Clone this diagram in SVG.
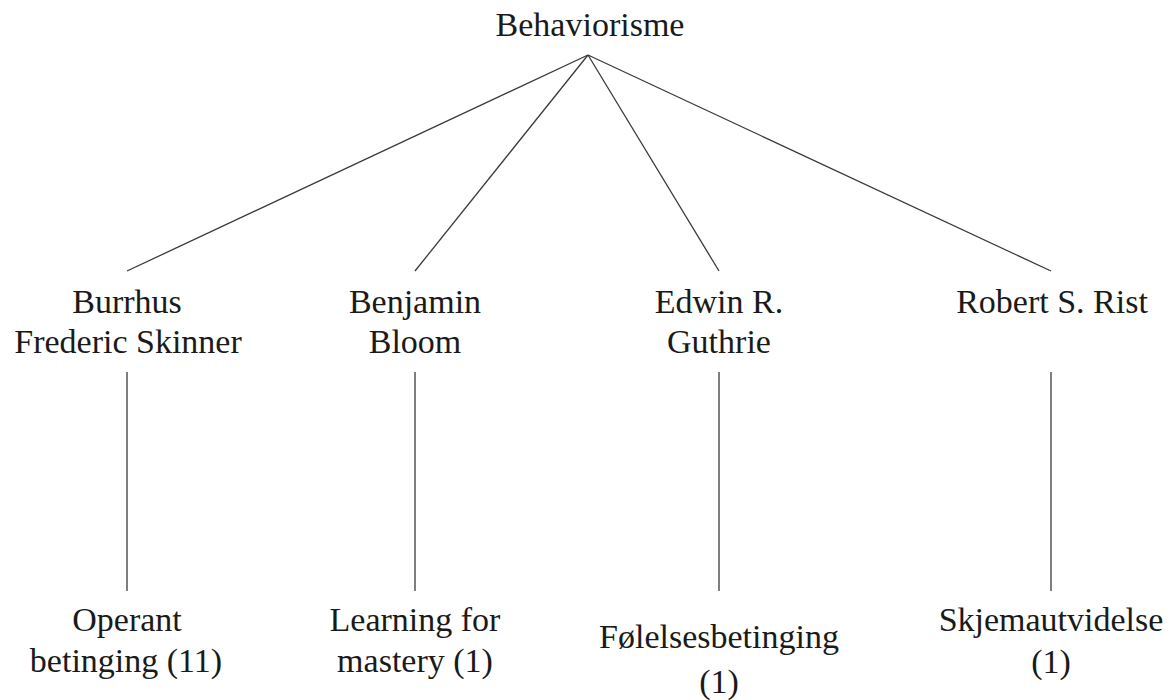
<svg xmlns="http://www.w3.org/2000/svg" width="1176" height="700" viewBox="0 0 1176 700">
  <style>
    .lbl { font-family: "Liberation Serif", "Times New Roman", serif; font-size: 34px; fill: #1a1a1a; text-anchor: middle; }
    .edge { stroke: #3a3a3a; stroke-width: 1.3; fill: none; }
  </style>
  <rect width="1176" height="700" fill="#ffffff"/>
  <g id="connectors">
    <line class="edge" x1="588" y1="55" x2="127" y2="271"/>
    <line class="edge" x1="588" y1="55" x2="415" y2="271"/>
    <line class="edge" x1="588" y1="55" x2="719" y2="271"/>
    <line class="edge" x1="588" y1="55" x2="1051" y2="271"/>
    <line class="edge" x1="127" y1="372" x2="127" y2="591"/>
    <line class="edge" x1="415" y1="372" x2="415" y2="591"/>
    <line class="edge" x1="719" y1="372" x2="719" y2="591"/>
    <line class="edge" x1="1051" y1="372" x2="1051" y2="591"/>
  </g>
  <g id="root">
    <text class="lbl" x="590" y="36">Behaviorisme</text>
  </g>
  <g id="skinner">
    <text class="lbl" x="127" y="313">Burrhus</text>
    <text class="lbl" x="128" y="353">Frederic Skinner</text>
  </g>
  <g id="bloom">
    <text class="lbl" x="415" y="313">Benjamin</text>
    <text class="lbl" x="415" y="353">Bloom</text>
  </g>
  <g id="guthrie">
    <text class="lbl" x="719" y="313">Edwin R.</text>
    <text class="lbl" x="719" y="353">Guthrie</text>
  </g>
  <g id="rist">
    <text class="lbl" x="1052" y="313">Robert S. Rist</text>
  </g>
  <g id="operant">
    <text class="lbl" x="127" y="631">Operant</text>
    <text class="lbl" x="126" y="672">betinging (11)</text>
  </g>
  <g id="mastery">
    <text class="lbl" x="415" y="631">Learning for</text>
    <text class="lbl" x="415" y="672">mastery (1)</text>
  </g>
  <g id="folelse">
    <text class="lbl" x="719" y="648">Følelsesbetinging</text>
    <text class="lbl" x="719" y="693">(1)</text>
  </g>
  <g id="skjema">
    <text class="lbl" x="1051" y="631">Skjemautvidelse</text>
    <text class="lbl" x="1051" y="673">(1)</text>
  </g>
</svg>
